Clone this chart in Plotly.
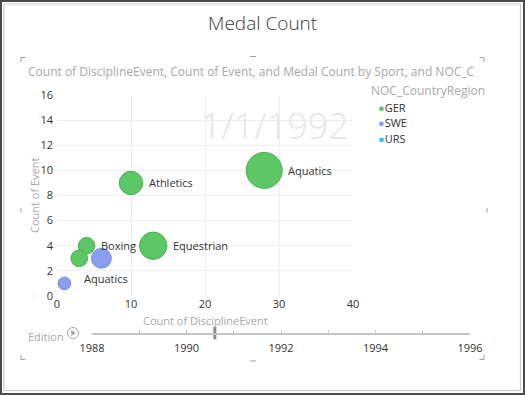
import math
import plotly.graph_objects as go

# ---------------- data ----------------
countries = ["GER", "SWE", "URS"]
ger_sport = ["Aquatics", "Athletics", "Equestrian", "Boxing", ""]
ger_discipline_event = [28, 10, 13, 4, 3]
ger_event = [10, 9, 4, 4, 3]
ger_medals = [33, 14, 19, 7, 7]

swe_sport = ["", "Aquatics"]
swe_discipline_event = [6, 1]
swe_event = [3, 1]
swe_medals = [10, 4]

edition_years = [1988, 1990, 1992, 1994, 1996]
play_position = [1990.6]
current_frame = "1/1/1992"

title_text = "Medal Count"
subtitle_text = "Count of DisciplineEvent, Count of Event, and Medal Count by Sport, and NOC_C"
x_title = "Count of DisciplineEvent"
y_title = "Count of Event"
legend_title = "NOC_CountryRegion"
play_title = "Edition"

# ---------------- styling ----------------
W, H = 525, 395
FONT = "Open Sans, Segoe UI, sans-serif"
colors = {"GER": "#5CC865", "SWE": "#8C9FEE", "URS": "#35C2F2"}
edges = {"GER": "#49AE52", "SWE": "#7286DA", "URS": "#2AA8D6"}
MAX_D = 36
all_medals = ger_medals + swe_medals
sizeref = 2.0 * max(all_medals) / (MAX_D ** 2)


def px(x):
    return x / W


def py(y):
    return 1 - y / H


def radius(m):
    return math.sqrt(m / 2.0 / sizeref)


fig = go.Figure()

for name, xs, ys, ms in [("GER", ger_discipline_event, ger_event, ger_medals),
                         ("SWE", swe_discipline_event, swe_event, swe_medals)]:
    fig.add_trace(go.Scatter(
        x=xs, y=ys, mode="markers", name=name, showlegend=False,
        marker=dict(size=ms, sizemode="area", sizeref=sizeref,
                    color=colors[name], opacity=1,
                    line=dict(color=edges[name], width=1)),
        cliponaxis=False, hoverinfo="skip"))

# play-axis thumb
fig.add_trace(go.Scatter(
    x=play_position, y=[0], xaxis="x2", yaxis="y2", mode="markers",
    marker=dict(symbol="line-ns", size=9, line=dict(color="#8A8A8A", width=3)),
    showlegend=False, cliponaxis=False, hoverinfo="skip"))

annotations = []
# bubble labels
label_offsets = {("SWE", "Aquatics"): (18, 5)}
for name, sports, xs, ys, ms in [("GER", ger_sport, ger_discipline_event, ger_event, ger_medals),
                                 ("SWE", swe_sport, swe_discipline_event, swe_event, swe_medals)]:
    for s, x, y, m in zip(sports, xs, ys, ms):
        if not s:
            continue
        dx, dy = label_offsets.get((name, s), (radius(m) + 4, 0))
        annotations.append(dict(x=x, y=y, xref="x", yref="y", text=s, showarrow=False,
                                xanchor="left", yanchor="middle", xshift=dx, yshift=dy,
                                font=dict(family=FONT, size=11, color="#333333")))

# titles
annotations.append(dict(x=px(262), y=py(23), xref="paper", yref="paper", text=title_text,
                        showarrow=False, xanchor="center", yanchor="middle",
                        font=dict(family=FONT, size=19, color="#3A3A3A", weight=300)))
annotations.append(dict(x=px(26), y=py(72), xref="paper", yref="paper", text=subtitle_text,
                        showarrow=False, xanchor="left", yanchor="middle",
                        font=dict(family=FONT, size=12, color="#A8A8A8")))
# watermark
annotations.append(dict(x=px(275), y=py(126), xref="paper", yref="paper", text=current_frame,
                        showarrow=False, xanchor="center", yanchor="middle",
                        font=dict(family=FONT, size=36, color="#E6E6E6", weight=300)))
# axis titles
annotations.append(dict(x=px(205), y=py(320), xref="paper", yref="paper", text=x_title,
                        showarrow=False, xanchor="center", yanchor="middle",
                        font=dict(family=FONT, size=11, color="#A8A8A8")))
annotations.append(dict(x=px(34), y=py(195), xref="paper", yref="paper", text=y_title,
                        showarrow=False, xanchor="center", yanchor="middle", textangle=-90,
                        font=dict(family=FONT, size=11, color="#A8A8A8")))
# legend
annotations.append(dict(x=px(369), y=py(90), xref="paper", yref="paper", text=legend_title,
                        showarrow=False, xanchor="left", yanchor="middle",
                        font=dict(family=FONT, size=12, color="#A8A8A8")))
for i, c in enumerate(countries):
    annotations.append(dict(x=px(376), y=py(107 + i * 15.5), xref="paper", yref="paper",
                            text=f"<span style='color:{colors[c]}'>●</span>{c}",
                            showarrow=False, xanchor="left", yanchor="middle",
                            font=dict(family=FONT, size=11, color="#333333")))
# play axis label
annotations.append(dict(x=px(46), y=py(336), xref="paper", yref="paper", text=play_title,
                        showarrow=False, xanchor="center", yanchor="middle",
                        font=dict(family=FONT, size=11, color="#A8A8A8")))

shapes = []
# outer frame
shapes.append(dict(type="rect", xref="paper", yref="paper", x0=px(1), x1=px(524), y0=py(1), y1=py(394),
                   line=dict(color="#4A4A4A", width=2)))
shapes.append(dict(type="rect", xref="paper", yref="paper", x0=px(4), x1=px(520.5), y0=py(4), y1=py(390.5),
                   line=dict(color="#CCCCCC", width=1.2)))


def path(points):
    return "M" + " L".join(f"{px(a):.5f},{py(b):.5f}" for a, b in points)


handles = [
    [(21, 62), (21, 57.5), (25.5, 57.5)],
    [(250, 56.5), (256, 56.5)],
    [(479.5, 57.5), (484, 57.5), (484, 62)],
    [(21, 208), (21, 212.5)],
    [(487, 208), (487, 212.5)],
    [(21, 355), (21, 359.5), (25.5, 359.5)],
    [(250, 361), (256, 361)],
    [(479.5, 359.5), (484, 359.5), (484, 355)],
]
for h in handles:
    shapes.append(dict(type="path", xref="paper", yref="paper", path=path(h),
                       line=dict(color="#A0A0A0", width=1)))
# play button
shapes.append(dict(type="circle", xref="paper", yref="paper",
                   x0=px(67.5), x1=px(78.5), y0=py(327.5), y1=py(338.5),
                   line=dict(color="#A8A8A8", width=1)))
shapes.append(dict(type="path", xref="paper", yref="paper",
                   path=path([(71.5, 330.5), (71.5, 335.5), (75.5, 333)]) + " Z",
                   fillcolor="#A0A0A0", line=dict(color="#A0A0A0", width=0.5)))

fig.update_layout(
    width=W, height=H,
    margin=dict(l=0, r=0, t=0, b=0, autoexpand=False),
    paper_bgcolor="white", plot_bgcolor="white",
    font=dict(family=FONT, size=11, color="#333333"),
    showlegend=False,
    xaxis=dict(domain=[px(57), px(353)], range=[0, 40], dtick=10, tick0=0,
               showgrid=True, gridcolor="#EDEDED", gridwidth=1, zeroline=False,
               showline=False, ticks="", tickfont=dict(size=11, color="#333333"),
               fixedrange=True, anchor="y"),
    yaxis=dict(domain=[py(296), py(95)], range=[0, 16], dtick=2, tick0=0,
               showgrid=True, gridcolor="#EDEDED", gridwidth=1, zeroline=False,
               showline=False, ticks="", tickfont=dict(size=11, color="#333333"),
               ticklabelstandoff=3, fixedrange=True, anchor="x"),
    xaxis2=dict(domain=[px(92), px(470)], range=[edition_years[0], edition_years[-1]],
                tickvals=edition_years, ticks="inside", ticklen=3, tickcolor="#C4C4C4",
                minor=dict(dtick=1, ticks="inside", ticklen=3, tickcolor="#C4C4C4", showgrid=False),
                showline=True, linecolor="#C4C4C4", linewidth=1.5, showgrid=False, zeroline=False,
                ticklabelstandoff=4,
                tickfont=dict(size=11, color="#333333"), anchor="y2", fixedrange=True),
    yaxis2=dict(domain=[py(333), py(320)], range=[0, 1], visible=False, fixedrange=True,
                anchor="x2"),
    annotations=annotations,
    shapes=shapes,
)

fig.write_html("out.html", config={"displayModeBar": False},
               post_script="document.body.style.margin='0px';document.body.style.overflow='hidden';")
